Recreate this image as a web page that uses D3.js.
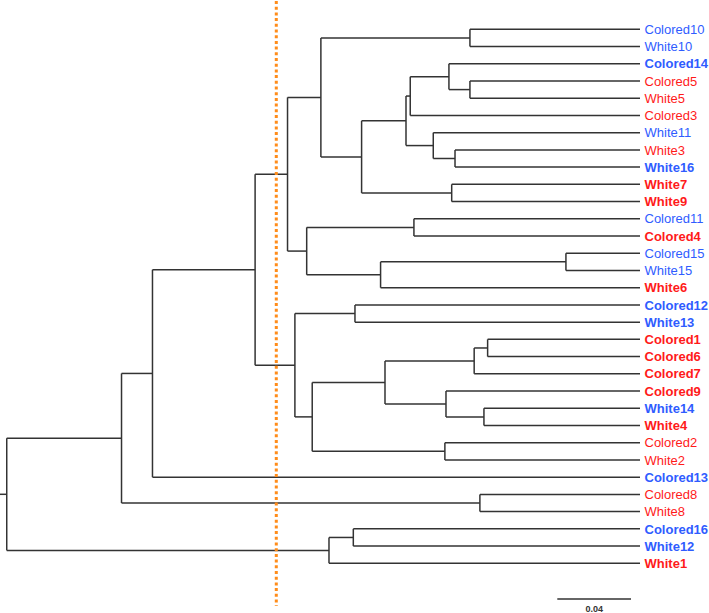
<!DOCTYPE html>
<html><head><meta charset="utf-8">
<script src="https://cdn.jsdelivr.net/npm/d3@7"></script>
<style>html,body{margin:0;padding:0;background:#fff;}svg{display:block;}</style>
</head><body>
<svg id="chart" width="709" height="613"></svg>
<script>
// Leaf order (top to bottom)
const leaves = ["Colored10","White10","Colored14","Colored5","White5","Colored3","White11","White3","White16","White7","White9","Colored11","Colored4","Colored15","White15","White6","Colored12","White13","Colored1","Colored6","Colored7","Colored9","White14","White4","Colored2","White2","Colored13","Colored8","White8","Colored16","White12","White1"];
const leafGroup = ["b","b","b","r","r","r","b","r","b","r","r","b","r","b","b","r","b","b","r","r","r","r","b","r","r","r","b","r","r","b","b","r"];
const leafBold = [0,0,1,0,0,0,0,0,1,1,1,0,1,0,0,1,1,1,1,1,1,1,1,1,0,0,1,0,0,1,1,1];
// Merges: [left, right, height]; "#k" refers to merge k
const merges = [
  ["Colored10","White10",0.0923],
  ["Colored5","White5",0.0923],
  ["Colored14","#1",0.1037],
  ["#2","Colored3",0.1247],
  ["White3","White16",0.1004],
  ["White11","#4",0.1122],
  ["#3","#5",0.1270],
  ["White7","White9",0.1022],
  ["#6","#7",0.1511],
  ["#0","#8",0.1732],
  ["Colored11","Colored4",0.1227],
  ["Colored15","White15",0.0402],
  ["#11","White6",0.1408],
  ["#10","#12",0.1809],
  ["#9","#13",0.1913],
  ["Colored12","White13",0.1547],
  ["Colored1","Colored6",0.0827],
  ["#16","Colored7",0.0900],
  ["White14","White4",0.0847],
  ["Colored9","#18",0.1053],
  ["#17","#19",0.1384],
  ["Colored2","White2",0.1059],
  ["#20","#21",0.1779],
  ["#15","#22",0.1873],
  ["#14","#23",0.2089],
  ["#24","Colored13",0.2646],
  ["Colored8","White8",0.0869],
  ["#25","#26",0.2814],
  ["Colored16","White12",0.1556],
  ["#28","White1",0.1688],
  ["#27","#29",0.3437]
];
const cutHeight = 0.1974;
const scaleBarValue = 0.04;
const scaleBarLabel = "0.04";

const groupColor = {b:"#2f5cff", r:"#ff1a1a"};

const svg = d3.select("#chart");
const x = d3.scaleLinear().domain([0, scaleBarValue]).range([640, 640-73.7]);
const y = d3.scalePoint().domain(leaves).range([29.3, 563.3]);

function build(ref){
  if (ref.startsWith("#")) {
    const m = merges[+ref.slice(1)];
    return {name: ref, height: m[2], children: [build(m[0]), build(m[1])]};
  }
  return {name: ref, height: 0};
}
const root = d3.hierarchy(build("#" + (merges.length-1)));
root.eachAfter(n => {
  n.px = x(n.data.height);
  if (!n.children) n.py = y(n.data.name);
  else n.py = (n.children[0].py + n.children[n.children.length-1].py)/2;
});

const g = svg.append("g").attr("fill","none").attr("stroke","#333").attr("stroke-width",1.5);
// root stub
g.append("line").attr("x1",0).attr("x2",root.px).attr("y1",root.py).attr("y2",root.py);
root.each(n => {
  if (n.children) {
    g.append("line").attr("x1",n.px).attr("x2",n.px)
      .attr("y1",n.children[0].py).attr("y2",n.children[n.children.length-1].py);
    n.children.forEach(c => {
      g.append("line").attr("x1",n.px).attr("x2",c.px).attr("y1",c.py).attr("y2",c.py);
    });
  }
});

// labels
svg.append("g").selectAll("text").data(leaves).join("text")
  .attr("x", 644.5)
  .attr("y", d => y(d))
  .attr("dy","0.36em")
  .attr("font-family","Liberation Sans, Arial, sans-serif")
  .attr("font-size", 13)
  .attr("font-weight", (d,i) => leafBold[i] ? "bold" : "normal")
  .attr("fill", (d,i) => groupColor[leafGroup[i]])
  .text(d => d);

// cut line
svg.append("line")
  .attr("x1", x(cutHeight)).attr("x2", x(cutHeight))
  .attr("y1", 1).attr("y2", 606)
  .attr("stroke","#ff8c1a").attr("stroke-width",3)
  .attr("stroke-dasharray","3 2.7");

// scale bar
svg.append("line")
  .attr("x1", 631 - (x(0)-x(scaleBarValue))).attr("x2", 631)
  .attr("y1", 599).attr("y2", 599)
  .attr("stroke","#666").attr("stroke-width",1.8);
svg.append("text")
  .attr("x", 631 - (x(0)-x(scaleBarValue))/2).attr("y", 612)
  .attr("text-anchor","middle")
  .attr("font-family","Liberation Sans, Arial, sans-serif")
  .attr("font-size", 9).attr("font-weight","bold").attr("fill","#333")
  .text(scaleBarLabel);
</script>
</body></html>
